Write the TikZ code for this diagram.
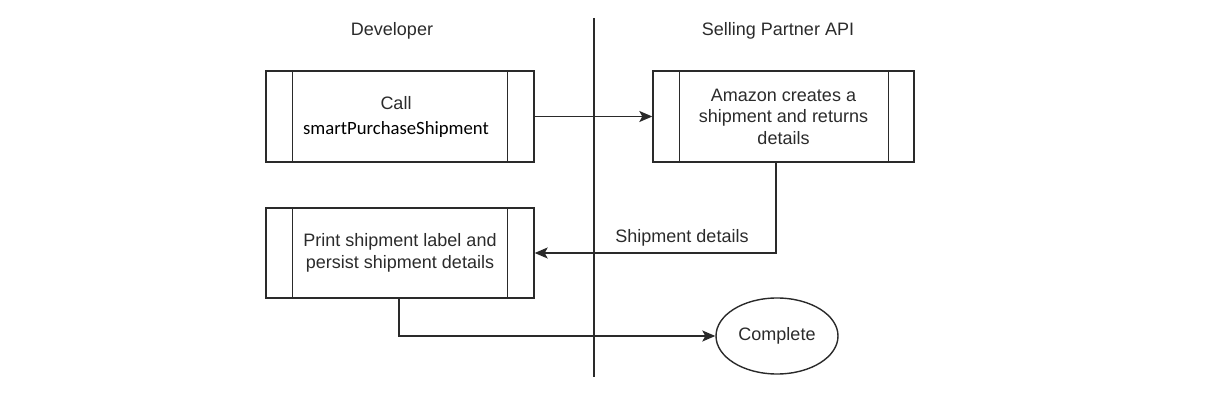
\documentclass[tikz,border=0pt]{standalone}
\usepackage{fontspec}
\setmainfont{Liberation Sans}
\newfontfamily\carlito{Carlito}
\usetikzlibrary{arrows.meta,shapes.geometric}
\definecolor{txt}{HTML}{2B2B2B}
\definecolor{ln}{HTML}{2A2A2A}
\begin{document}
\begin{tikzpicture}[x=1pt,y=-1pt,
  every node/.style={text=txt, font=\fontsize{18}{21.5}\selectfont},
  proc/.style={draw=ln, line width=1.4pt, rectangle, align=center, inner sep=0pt},
  conn/.style={draw=ln, line width=1.4pt, -{Stealth[length=13pt,width=11pt,inset=3pt]}},
  sep/.style={draw=ln, line width=1.4pt}]
\useasboundingbox (0,0) rectangle (1223,419);
% swimlane separator
\coordinate (septop) at (594,18);
\coordinate (sepbot) at (594,377);
\draw[sep] (septop) -- (sepbot);
% headers
\node (hdev) at (392,31) {Developer};
\node (hapi) at (778,31) {Selling Partner API};
% boxes
\node[proc, minimum width=268pt, minimum height=91pt] (b1) at (400,116.5) {};
\node (b1t) at (396,117) [align=center] {Call\\[4pt]{\carlito\color{black}\fontsize{18.7}{20}\selectfont smartPurchaseShipment}};
\node[proc, minimum width=261pt, minimum height=91pt] (b2) at (783.5,116.5) {Amazon creates a\\shipment and returns\\details};
\node[proc, minimum width=268pt, minimum height=90pt] (b3) at (400,253) {Print shipment label and\\persist shipment details};
\node[draw=ln, line width=1.4pt, ellipse, minimum width=122pt, minimum height=76pt] (done) at (777,336) {Complete};
% inner bars of the process boxes
\foreach \b/\l/\r in {b1/27/27, b2/27/26, b3/27/27}{
  \draw[sep, line width=1.2pt] ([xshift=\l pt]\b.north west) -- ([xshift=\l pt]\b.south west);
  \draw[sep, line width=1.2pt] ([xshift=-\r pt]\b.north east) -- ([xshift=-\r pt]\b.south east);
}
% connectors
\coordinate (b2out) at (776,162);
\draw[conn] (b1.east) -- (b2.west);
\draw[conn] (b2out) |- (b3.east);
\node (lbl) at (682,238) {Shipment details};
\draw[conn] ([xshift=-1pt]b3.south) |- (done.west);
\end{tikzpicture}
\end{document}
